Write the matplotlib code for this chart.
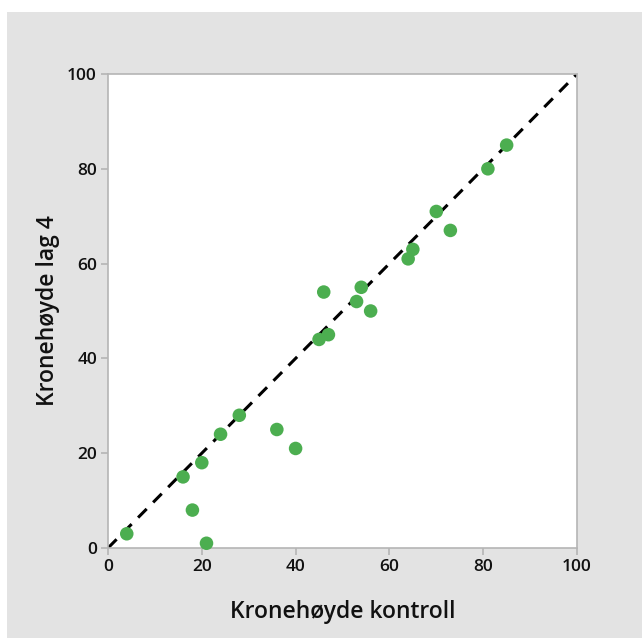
import matplotlib
matplotlib.use("Agg")
import matplotlib.pyplot as plt
from matplotlib.patches import Rectangle

plt.rcParams['font.family'] = ['Open Sans', 'DejaVu Sans']

# Kronehøyde: kontroll mot lag 4
kontroll = [4, 16, 18, 20, 21, 24, 28, 36, 40, 45, 47, 46, 53, 54, 56,
            64, 65, 70, 73, 81, 85]
lag4 = [3, 15, 8, 18, 1, 24, 28, 25, 21, 44, 45, 54, 52, 55, 50,
        61, 63, 71, 67, 80, 85]
ticks = [0, 20, 40, 60, 80, 100]

fig = plt.figure(figsize=(6.42, 6.38), dpi=100)
fig.patches.append(Rectangle((7 / 642, 0), 1, 1 - 12 / 638,
                             transform=fig.transFigure,
                             facecolor='#e3e3e3', edgecolor='none', zorder=-10))

ax = fig.add_axes([108 / 642, 90 / 638, 469 / 642, 474 / 638])
ax.set_facecolor('white')

ax.plot([0, 100], [0, 100], color='black', linestyle=(0, (4, 3)),
        linewidth=2.2, zorder=2)
ax.scatter(kontroll, lag4, s=95, color='#4cae50', edgecolors='none',
           zorder=3, clip_on=False)

ax.set_xlim(0, 100)
ax.set_ylim(0, 100)
ax.set_xticks(ticks)
ax.set_yticks(ticks)
for sp in ax.spines.values():
    sp.set_color('#b5b5b5')
    sp.set_linewidth(1.2)
ax.tick_params(colors='#b5b5b5', labelcolor='#111111', labelsize=12.5,
               length=5, width=1.2, direction='out', pad=3)
for lbl in ax.get_xticklabels() + ax.get_yticklabels():
    lbl.set_fontweight('semibold')

ax.set_xlabel('Kronehøyde kontroll', fontsize=16.5, color='#111111',
              fontweight='semibold', va='center')
ax.set_ylabel('Kronehøyde lag 4', fontsize=16.5, color='#111111',
              fontweight='semibold', va='center')
ax.xaxis.set_label_coords(0.5, -0.135)
ax.yaxis.set_label_coords(-0.128, 0.5)

fig.savefig('out.png', dpi=100)
